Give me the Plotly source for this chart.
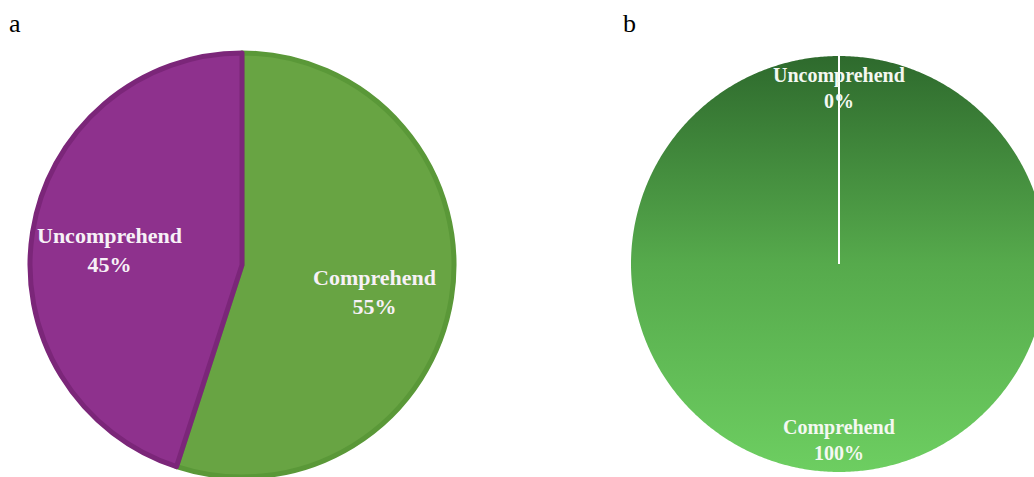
import numpy as np
import plotly.graph_objects as go

# ---- data ----
panel_tags = ["a", "b"]
labels_a = ["Comprehend", "Uncomprehend"]
share_a = [55, 45]
labels_b = ["Uncomprehend", "Comprehend"]
share_b = [0, 100]

# ---- layout constants (pixels) ----
W, H = 1034, 477
A_CX, A_CY, A_R = 242, H - 265, 212
B_CX, B_CY, B_R = 839, H - 264, 208

GREEN, GREEN_EDGE = "#68a443", "#5a9838"
PURPLE, PURPLE_EDGE = "#8e318d", "#7b2679"
LABEL_FONT = "Liberation Serif"

fig = go.Figure()

# panel a: native pie, labels placed along each slice bisector
fig.add_trace(go.Pie(
    labels=labels_a, values=share_a, sort=False,
    direction="clockwise", rotation=0,
    marker=dict(colors=[GREEN, PURPLE],
                line=dict(color=[GREEN_EDGE, PURPLE_EDGE], width=5)),
    textinfo="none",
    domain=dict(x=[(A_CX - A_R) / W, (A_CX + A_R) / W],
                y=[(A_CY - A_R) / H, (A_CY + A_R) / H]),
    showlegend=False, hoverinfo="skip",
))

total_a = sum(share_a)
start = 0.0
for lab, val in zip(labels_a, share_a):
    frac = val / total_a
    mid = (start + frac / 2) * 2 * np.pi
    fig.add_annotation(
        x=A_CX + 0.635 * A_R * np.sin(mid), y=A_CY + 0.635 * A_R * np.cos(mid),
        yshift=-6,
        text=f"{lab}<br>{val / total_a:.0%}", showarrow=False,
        font=dict(family=LABEL_FONT, size=22, color="#f7f1f7", weight="bold"),
    )
    start += frac

# panel b: slices drawn on a pixel-scaled cartesian plane with a vertical gradient fill
total_b = sum(share_b)
start = 0.0
boundaries = set()
for lab, val in zip(labels_b, share_b):
    frac = val / total_b
    boundaries.add(round(start % 1.0, 6))
    if frac > 0:
        th = np.linspace(start, start + frac, 721) * 2 * np.pi
        xs = np.concatenate([[B_CX], B_CX + B_R * np.sin(th), [B_CX]])
        ys = np.concatenate([[B_CY], B_CY + B_R * np.cos(th), [B_CY]])
        fig.add_trace(go.Scatter(
            x=xs, y=ys, mode="none", fill="toself",
            fillgradient=dict(type="vertical",
                              colorscale=[[0, "#6dce61"], [0.5, "#56aa4c"], [1, "#2e6a2d"]]),
            showlegend=False, hoverinfo="skip",
        ))
    mid = (start + frac / 2) * 2 * np.pi
    fig.add_annotation(
        x=B_CX + 0.845 * B_R * np.sin(mid), y=B_CY + 0.845 * B_R * np.cos(mid),
        text=f"{lab}<br>{frac:.0%}", showarrow=False,
        font=dict(family=LABEL_FONT, size=20, color="#f4f8f2", weight="bold"),
    )
    start += frac

# white slice separators
for b in sorted(boundaries):
    ang = b * 2 * np.pi
    fig.add_trace(go.Scatter(
        x=[B_CX, B_CX + B_R * np.sin(ang)], y=[B_CY, B_CY + B_R * np.cos(ang)],
        mode="lines", line=dict(color="white", width=2),
        showlegend=False, hoverinfo="skip",
    ))

# panel tags
for tag, tx in zip(panel_tags, [15, 629]):
    fig.add_annotation(x=tx, y=H - 23, text=tag, showarrow=False,
                       font=dict(family=LABEL_FONT, size=26, color="black"))

fig.update_xaxes(range=[0, W], visible=False, fixedrange=True)
fig.update_yaxes(range=[0, H], visible=False, fixedrange=True)
fig.update_layout(
    width=W, height=H, margin=dict(l=0, r=0, t=0, b=0),
    paper_bgcolor="white", plot_bgcolor="white",
)

fig.write_html("out.html")
